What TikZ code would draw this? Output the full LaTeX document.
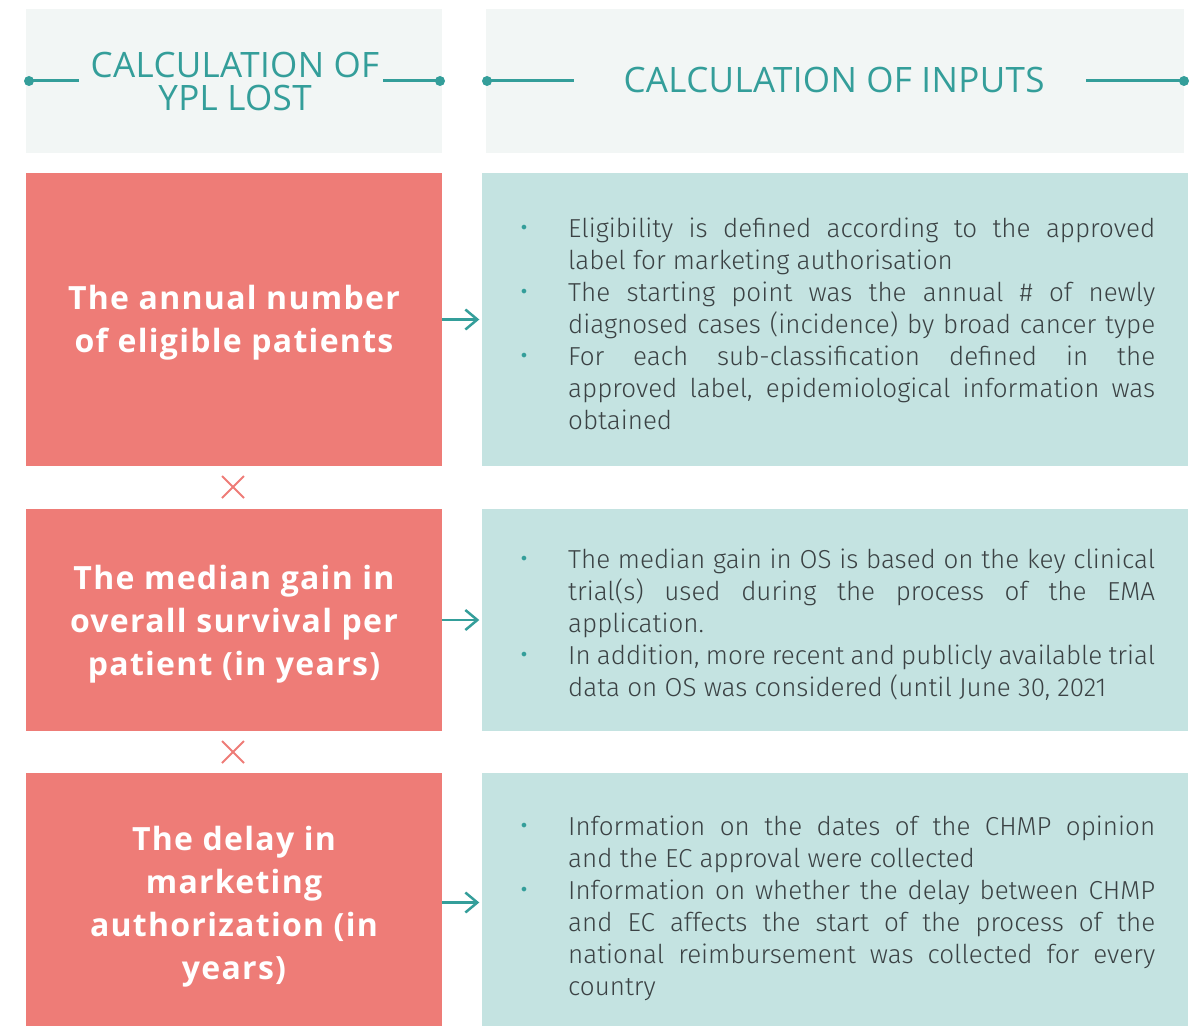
\documentclass[tikz,border=0pt]{standalone}
\usepackage{fontspec}
\usetikzlibrary{arrows.meta,shapes.misc}
\newfontfamily\bodyfont{Fira Sans Light}
\newfontfamily\headfont[LetterSpace=1]{Open Sans}
\newfontfamily\redfont[LetterSpace=4]{Open Sans}
\newfontfamily\symfont{DejaVu Sans}
\definecolor{tealc}{HTML}{349E9A}
\definecolor{redc}{HTML}{EE7C77}
\definecolor{lteal}{HTML}{C4E3E1}
\definecolor{hbg}{HTML}{F2F6F5}
\definecolor{bodyc}{HTML}{3B4244}
\newlength\bw \setlength\bw{587pt}
\newcommand\jl[1]{\makebox[\bw][s]{#1}}
\newcommand\bul{\leavevmode\llap{{\symfont\fontsize{16}{16}\selectfont\raisebox{4pt}{\textcolor{tealc}{•}}}\hspace{39.3pt}}}
\tikzset{
  hbox/.style={fill=hbg, draw=none, inner sep=0, minimum height=144pt},
  redbox/.style={fill=redc, draw=none, inner sep=0, minimum width=416pt},
  tealbox/.style={fill=lteal, draw=none, inner sep=0, minimum width=706pt},
  hdot/.style={circle, fill=tealc, inner sep=0, minimum size=10pt},
  hline/.style={draw=tealc, line width=3pt},
  headtxt/.style={anchor=base, inner sep=0, text=tealc, font=\headfont\fontsize{35}{33.7}\selectfont},
  redtxt/.style={anchor=base, inner sep=0, text=white, font=\redfont\bfseries\fontsize{32}{43}\selectfont},
  bodytxt/.style={anchor=base west, inner sep=0, text=bodyc, font=\bodyfont\fontsize{26}{32}\selectfont},
  arr/.style={draw=tealc, line width=2.5pt, -{Straight Barb[length=12pt,width=20pt,line width=2.5pt]}, shorten >=2.5pt},
  times/.style={cross out, draw=redc, line width=2pt, minimum size=20pt, inner sep=0}
}
\begin{document}
\begin{tikzpicture}[x=1pt,y=-1pt]
\useasboundingbox (0,0) rectangle (1204,1027);
% headers
\node[hbox, minimum width=416pt] (hl) at (234,81) {};
\node[hbox, minimum width=698pt] (hr) at (835,81) {};
\node[headtxt] (hlt) at (235,77.3) {\parbox[t]{400pt}{\centering CALCULATION OF\\YPL LOST}};
\node[headtxt] (hrt) at (834,92.3) {CALCULATION OF INPUTS};
\node[hdot] (d1) at (29,81) {};
\node[hdot] (d2) at (440,81) {};
\node[hdot] (d3) at (487,81) {};
\node[hdot] (d4) at (1184,81) {};
\coordinate (e1) at (79,81);
\coordinate (e2) at (383,81);
\coordinate (e3) at (574,81);
\coordinate (e4) at (1086,81);
\draw[hline] (d1.center) -- (e1);
\draw[hline] (e2) -- (d2.center);
\draw[hline] (d3.center) -- (e3);
\draw[hline] (e4) -- (d4.center);
% boxes
\node[redbox, minimum height=293pt] (r1) at (234,319.5) {};
\node[tealbox, minimum height=293pt] (t1) at (835,319.5) {};
\node[redbox, minimum height=222pt] (r2) at (234,620) {};
\node[tealbox, minimum height=222pt] (t2) at (835,620) {};
\node[redbox, minimum height=253pt] (r3) at (234,899.5) {};
\node[tealbox, minimum height=253pt] (t3) at (835,899.5) {};
% red labels
\node[redtxt] (l1) at (234,309.3) {\parbox[t]{400pt}{\centering The annual number\\of eligible patients}};
\node[redtxt] (l2) at (234,589.3) {\parbox[t]{400pt}{\centering The median gain in\\overall survival per\\patient (in years)}};
\node[redtxt] (l3) at (234,850.5) {\parbox[t]{400pt}{\centering The delay in\\marketing\\authorization (in\\years)}};
% times
\node[times] (x1) at (233,487) {};
\node[times] (x2) at (233,752) {};
% arrows
\draw[arr] (r1.east) -- (t1.west);
\draw[arr] (r2.east) -- (t2.west);
\draw[arr] ([yshift=-3pt]r3.east) -- ([yshift=-3pt]t3.west);
% body texts
\node[bodytxt] (b1) at (568,237.3) {\parbox[t]{\bw}{\fontsize{26}{32}\selectfont
\bul\jl{Eligibility is defined according to the approved}\\
label for marketing authorisation\\
\bul\jl{The starting point was the annual \# of newly}\\
\jl{diagnosed cases (incidence) by broad cancer type}\\
\bul\jl{For each sub-classification defined in the}\\
\jl{approved label, epidemiological information was}\\
obtained}};
\node[bodytxt] (b2) at (568,568.3) {\parbox[t]{\bw}{\fontsize{26}{32}\selectfont
\bul\jl{The median gain in OS is based on the key clinical}\\
\jl{trial(s) used during the process of the EMA}\\
application.\\
\bul\jl{In addition, more recent and publicly available trial}\\
data on OS was considered (until June 30, 2021}};
\node[bodytxt] (b3) at (568,835.3) {\parbox[t]{\bw}{\fontsize{26}{32}\selectfont
\bul\jl{Information on the dates of the CHMP opinion}\\
and the EC approval were collected\\
\bul\jl{Information on whether the delay between CHMP}\\
\jl{and EC affects the start of the process of the}\\
\jl{national reimbursement was collected for every}\\
country}};
\end{tikzpicture}
\end{document}
